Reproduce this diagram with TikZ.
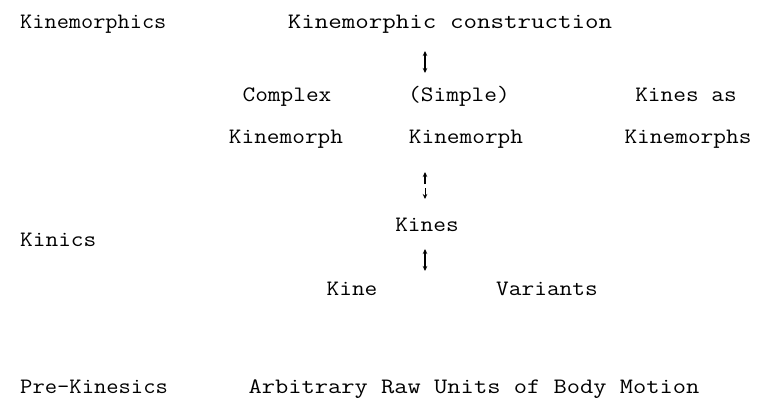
\documentclass[tikz,border=0pt]{standalone}
\usetikzlibrary{arrows.meta}
\begin{document}
\begin{tikzpicture}[x=1bp,y=-1bp,
  lbl/.style={font=\fontsize{22bp}{26bp}\selectfont\ttfamily, inner sep=0pt, anchor=base, xscale=1.12, transform shape},
  lft/.style={lbl, anchor=base west},
  arr/.style={line width=1.1pt, -{Stealth[length=5bp,width=4.5bp]}},
  dbl/.style={line width=1.1pt, {Stealth[length=5bp,width=4.5bp]}-{Stealth[length=5bp,width=4.5bp]}}]
\useasboundingbox (0,0) rectangle (761,415);
% level labels
\node[lft, xscale=0.96] (kmics) at (20,28) {Kinemorphics};
\node[lft] (kinics) at (20,246) {Kinics};
\node[lft, xscale=0.97] (prek) at (20,393) {Pre-Kinesics};
% content
\node[lbl, xscale=1.065] (kcons) at (450,28) {Kinemorphic construction};
\node[lbl] (cplx) at (287,101) {Complex};
\node[lbl] (simp) at (459,101) {(Simple)};
\node[lbl] (kas) at (686,101) {Kines as};
\node[lbl] (ckm) at (286,143) {Kinemorph};
\node[lbl] (skm) at (466,143) {Kinemorph};
\node[lbl] (kms) at (688,143) {Kinemorphs};
\node[lbl] (kines) at (427,231) {Kines};
\node[lbl] (kine) at (352,295) {Kine};
\node[lbl] (var) at (547,295) {Variants};
\node[lbl, xscale=1.045] (arb) at (474,393) {Arbitrary Raw Units of Body Motion};
% arrow end points
\coordinate (t1) at (425,51);
\coordinate (t2) at (425,73);
\coordinate (m1) at (425,184);
\coordinate (m2) at (425,172);
\coordinate (m3) at (425,188);
\coordinate (m4) at (425,199);
\coordinate (b1) at (425,249);
\coordinate (b2) at (425,271);
\draw[dbl] (t1) -- (t2);
\draw[arr] (m1) -- (m2);
\draw[arr, line width=0.8pt] (m3) -- (m4);
\draw[dbl] (b1) -- (b2);
\end{tikzpicture}
\end{document}
